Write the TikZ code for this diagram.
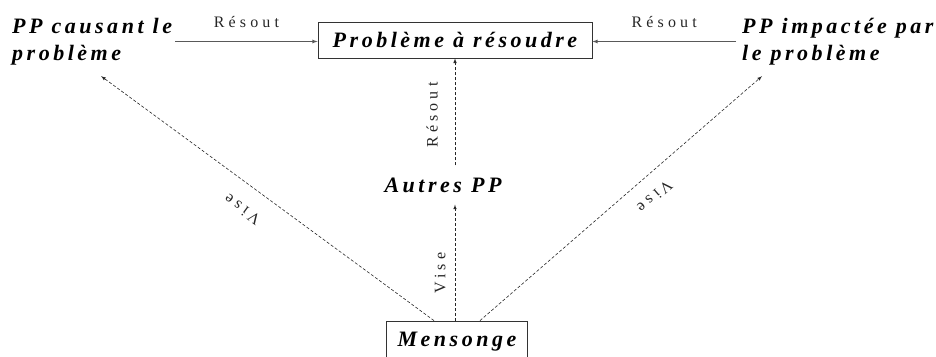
\documentclass[tikz,border=0pt]{standalone}
\usepackage{fontspec}
\setmainfont{Liberation Serif}
\newfontfamily\ppfont[LetterSpace=16]{Liberation Serif}
\newfontfamily\lblfont[LetterSpace=26]{Liberation Serif}
\usepackage{xcolor}
\usepackage{tikz}

\begin{document}
\begin{tikzpicture}%
                    [x=1pt, y=-1pt,
                    pp/.style={font=\ppfont\bfseries\itshape\fontsize{22}{27}\selectfont, inner sep=0pt, align=left},
                    boite/.style={pp, draw=black!80, line width=0.8pt, align=center},
                    resout/.style={draw=black!65, line width=0.8pt, -latex},
                    vise/.style={draw=black!85, line width=0.6pt, densely dashed, -latex},
                    lbl/.style={font=\lblfont\fontsize{16}{18}\selectfont, inner sep=0pt, text=black!85}]
                \useasboundingbox (0,0) rectangle (936,356);
                %% Drawing the nodes
                \node[boite, minimum width=274pt, minimum height=36pt] (prob) at (455,40) {Problème à résoudre};
                \node[pp, anchor=west] (cause) at (12,41.5) {PP causant le\\problème};
                \node[pp, anchor=west] (impact) at (742,41.5) {PP impactée par\\le problème};
                \node[pp, inner sep=12pt] (autres) at (443,185) {Autres PP};
                \node[boite, minimum width=141pt, minimum height=41pt] (mens) at (457,341.5) {Mensonge};
                %%
                %% Resolving the problem
                %%
                \draw[resout] ([xshift=3pt]cause.east) -- (cause.east -| prob.west) node[lbl, midway, above=13pt] {Résout};
                \draw[resout] ([xshift=-6pt]impact.west) -- (impact.west -| prob.east) node[lbl, midway, above=13pt] {Résout};
                \draw[vise] (autres.north -| prob.south) -- (prob.south) node[lbl, pos=0.47, rotate=90, yshift=17pt, anchor=south] {Résout};

                %% Who the lie aims at:
                \draw[vise] (mens.north -| prob.south) -- (autres.south -| prob.south) node[lbl, pos=0.41, rotate=90, yshift=9pt, anchor=south] {Vise};
                \draw[vise] ([xshift=-23pt]mens.north) -- ([xshift=9pt,yshift=-11pt]cause.south) node[lbl, pos=0.534, rotate=143.8, yshift=18pt, anchor=south] {Vise};
                \draw[vise] ([xshift=23pt]mens.north) -- ([xshift=20pt,yshift=-11pt]impact.south west) node[lbl, pos=0.572, rotate=220.65, yshift=15pt, anchor=south] {Vise};
                \end{tikzpicture}
\end{document}
